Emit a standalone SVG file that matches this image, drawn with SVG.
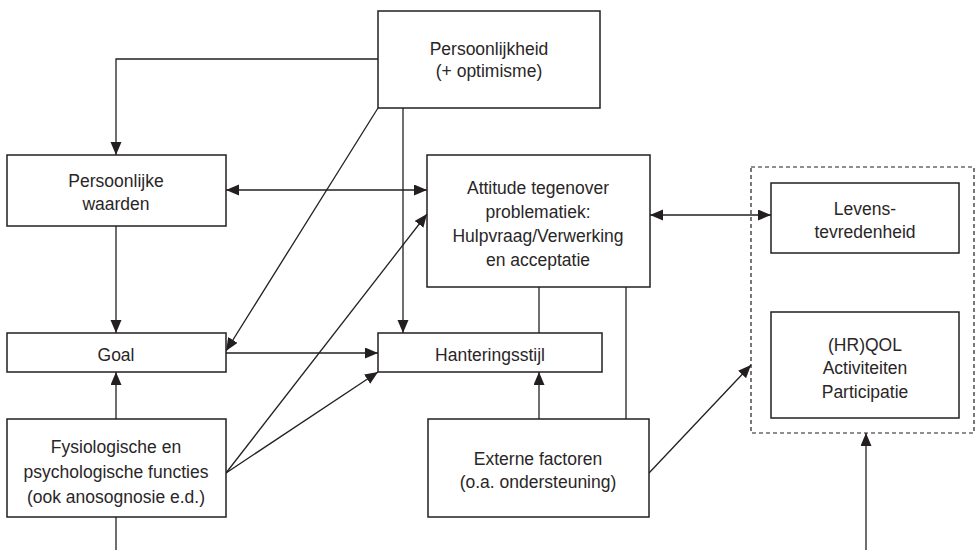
<svg xmlns="http://www.w3.org/2000/svg" width="976" height="550" viewBox="0 0 976 550">
<style>
.box{fill:#fff;stroke:#231f20;stroke-width:1.5}
.dash{fill:none;stroke:#231f20;stroke-width:1.2;stroke-dasharray:4,3}
.c{fill:none;stroke:#231f20;stroke-width:1.3}
.a{marker-end:url(#ah)}
.b{marker-start:url(#ah);marker-end:url(#ah)}
text{font-family:"Liberation Sans",Arial,sans-serif;font-size:17.5px;fill:#2a2627;text-anchor:middle}
</style>
<defs>
<marker id="ah" markerUnits="userSpaceOnUse" markerWidth="14" markerHeight="12" refX="13" refY="5.5" orient="auto-start-reverse">
<path d="M0,0 L13,5.5 L0,11 z" fill="#231f20"/>
</marker>
</defs>
<g id="connectors">
<path class="c a" d="M378,59 H116 V155"/>
<line class="c b" x1="226" y1="190" x2="427" y2="190"/>
<line class="c b" x1="650" y1="215" x2="771" y2="215"/>
<line class="c a" x1="116" y1="226" x2="116" y2="333"/>
<line class="c a" x1="116" y1="419" x2="116" y2="372"/>
<line class="c" x1="116" y1="517" x2="116" y2="550"/>
<line class="c a" x1="226" y1="353" x2="378" y2="353"/>
<line class="c a" x1="378" y1="108" x2="226" y2="351"/>
<line class="c a" x1="403" y1="108" x2="403" y2="333"/>
<line class="c a" x1="226" y1="473" x2="427" y2="214"/>
<line class="c a" x1="226" y1="473" x2="378" y2="372"/>
<line class="c" x1="539" y1="287" x2="539" y2="333"/>
<line class="c a" x1="539" y1="419" x2="539" y2="372"/>
<line class="c" x1="626" y1="287" x2="626" y2="419"/>
<line class="c a" x1="649" y1="473" x2="751" y2="365"/>
<line class="c a" x1="866" y1="550" x2="866" y2="433"/>
</g>
<g id="outcome-group">
<rect class="dash" x="751" y="167" width="223" height="266"/>
</g>
<g id="persoonlijkheid">
<rect class="box" x="378" y="11" width="222" height="97"/>
<text x="489" y="55">Persoonlijkheid</text>
<text x="489" y="77">(+ optimisme)</text>
</g>
<g id="waarden">
<rect class="box" x="7" y="155" width="219" height="71"/>
<text x="116" y="187">Persoonlijke</text>
<text x="116" y="210">waarden</text>
</g>
<g id="attitude">
<rect class="box" x="427" y="155" width="223" height="132"/>
<text x="538" y="194">Attitude tegenover</text>
<text x="538" y="218">problematiek:</text>
<text x="538" y="242">Hulpvraag/Verwerking</text>
<text x="538" y="266">en acceptatie</text>
</g>
<g id="levens">
<rect class="box" x="771" y="183" width="188" height="70"/>
<text x="865" y="215">Levens-</text>
<text x="865" y="238">tevredenheid</text>
</g>
<g id="hrqol">
<rect class="box" x="771" y="312" width="188" height="106"/>
<text x="865" y="351">(HR)QOL</text>
<text x="865" y="374">Activiteiten</text>
<text x="865" y="398">Participatie</text>
</g>
<g id="goal">
<rect class="box" x="7" y="333" width="219" height="39"/>
<text x="116" y="361">Goal</text>
</g>
<g id="hantering">
<rect class="box" x="378" y="333" width="224" height="39"/>
<text x="490" y="361">Hanteringsstijl</text>
</g>
<g id="fysiologisch">
<rect class="box" x="7" y="419" width="219" height="98"/>
<text x="116" y="453">Fysiologische en</text>
<text x="116" y="478">psychologische functies</text>
<text x="116" y="503">(ook anosognosie e.d.)</text>
</g>
<g id="extern">
<rect class="box" x="428" y="419" width="221" height="98"/>
<text x="538" y="465">Externe factoren</text>
<text x="538" y="488">(o.a. ondersteuning)</text>
</g>
</svg>
